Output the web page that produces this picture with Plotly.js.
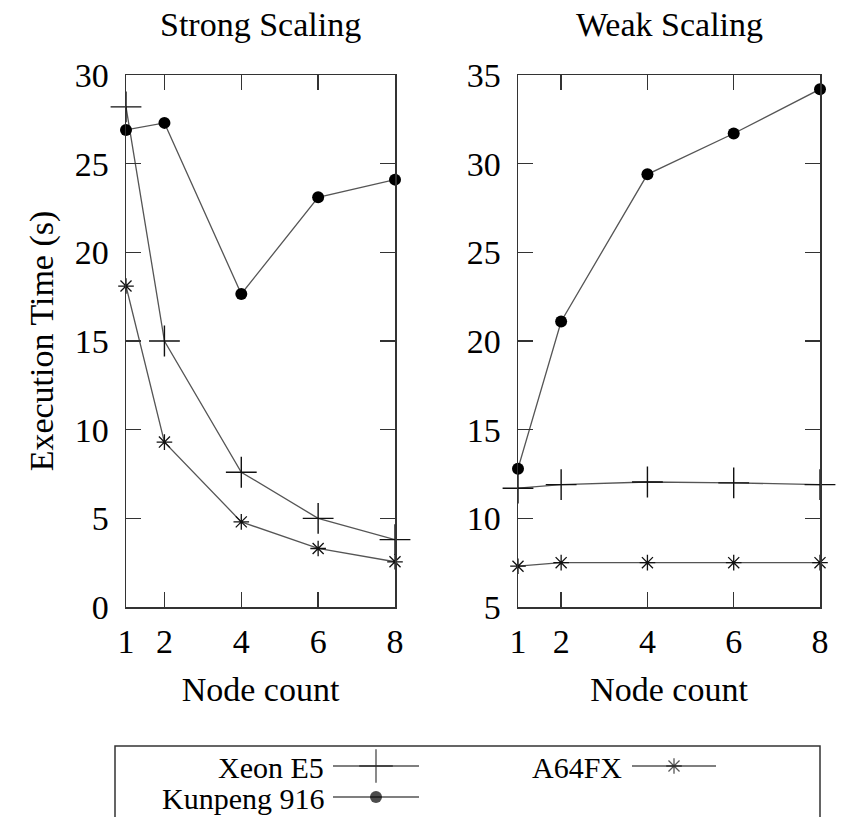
<!DOCTYPE html>
<html><head><meta charset="utf-8">
<script src="https://cdn.plot.ly/plotly-3.0.1.min.js"></script>
<style>html,body{margin:0;padding:0;background:#fff}#chart{width:843px;height:817px}</style>
</head><body><div id="chart"></div>
<script>
// ---- data ----
const nodes = [1, 2, 4, 6, 8];
const xTicks = [1, 2, 4, 6, 8];
const seriesNames = ['Xeon E5', 'Kunpeng 916', 'A64FX'];
const strongXeon = [28.2, 15.0, 7.6, 5.0, 3.8];
const strongKunpeng = [26.9, 27.3, 17.65, 23.1, 24.1];
const strongA64FX = [18.1, 9.3, 4.8, 3.3, 2.55];
const weakXeon = [11.7, 11.9, 12.05, 12.0, 11.9];
const weakKunpeng = [12.8, 21.1, 29.4, 31.7, 34.2];
const weakA64FX = [7.3, 7.5, 7.5, 7.5, 7.5];

// ---- styles ----
const W = 843, H = 817;
const FONT = 'Liberation Serif';
const FS = 34;
const LFS = 30;
const lineCol = '#555';
const markers = [
  {symbol: 'cross-thin-open', size: 22, color: '#111', line: {width: 1.4, color: '#111'}},
  {symbol: 'circle', size: 12, color: '#000', line: {width: 0}},
  {symbol: 'asterisk-open', size: 13, color: '#111', line: {width: 1.3, color: '#111'}}
];
const strongSets = [strongXeon, strongKunpeng, strongA64FX];
const weakSets = [weakXeon, weakKunpeng, weakA64FX];

const traces = [];
strongSets.forEach((ys, i) => traces.push({
  x: nodes, y: ys, name: seriesNames[i], mode: 'lines+markers', xaxis: 'x', yaxis: 'y',
  line: {color: lineCol, width: 1.3}, marker: markers[i], cliponaxis: false, showlegend: false
}));
weakSets.forEach((ys, i) => traces.push({
  x: nodes, y: ys, name: seriesNames[i], mode: 'lines+markers', xaxis: 'x2', yaxis: 'y2',
  line: {color: lineCol, width: 1.3}, marker: markers[i], cliponaxis: false, showlegend: false
}));

// custom legend (text left of sample, as in the reference) on a hidden pixel-space axis
const legendItems = [
  {name: seriesNames[0], textRight: 326, x0: 333, x1: 419, y: 766, m: markers[0]},
  {name: seriesNames[1], textRight: 326, x0: 333, x1: 419, y: 797, m: markers[1]},
  {name: seriesNames[2], textRight: 624, x0: 632, x1: 716, y: 766, m: markers[2]}
];
legendItems.forEach(it => {
  const mid = (it.x0 + it.x1) / 2;
  traces.push({
    x: [it.x0, mid, it.x1], y: [it.y, it.y, it.y], mode: 'lines+markers', xaxis: 'x3', yaxis: 'y3',
    line: {color: '#000', width: 1.2},
    marker: Object.assign({}, it.m, {size: [0, it.m.size === 22 ? 24 : it.m.size, 0]}),
    cliponaxis: false, showlegend: false, hoverinfo: 'skip'
  });
});

const axBase = {
  showline: true, linecolor: '#333', linewidth: 1.5, mirror: 'allticks',
  ticks: 'inside', ticklen: 15, tickwidth: 1.3, tickcolor: '#333',
  showgrid: false, zeroline: false, tickfont: {family: FONT, size: FS, color: '#000'},
  fixedrange: true
};
const xExtra = {ticklabelstandoff: 4};
const yExtra = {ticklabelstandoff: 9};
const yBot = 1 - 607 / H, yTop = 1 - 75 / H;

const annotations = [
  {text: 'Strong Scaling', x: (126 + 395) / 2 / W, y: 1 - 25 / H},
  {text: 'Weak Scaling', x: (518 + 820) / 2 / W, y: 1 - 25 / H}
].map(a => Object.assign(a, {xref: 'paper', yref: 'paper', xanchor: 'center', yanchor: 'middle', showarrow: false, font: {family: FONT, size: FS, color: '#000'}}));
legendItems.forEach(it => annotations.push({
  text: it.name, xref: 'x3', yref: 'y3', x: it.textRight, y: it.y + 1, xanchor: 'right', yanchor: 'middle',
  showarrow: false, font: {family: FONT, size: LFS, color: '#000'}
}));

const layout = {
  width: W, height: H, margin: {l: 0, r: 0, t: 0, b: 0},
  paper_bgcolor: '#fff', plot_bgcolor: 'rgba(0,0,0,0)', showlegend: false,
  font: {family: FONT, size: FS, color: '#000'},
  xaxis: Object.assign({}, axBase, xExtra, {domain: [126 / W, 395 / W], range: [1, 8], tickvals: xTicks, anchor: 'y',
    title: {text: 'Node count', font: {family: FONT, size: FS, color: '#000'}, standoff: 18}}),
  yaxis: Object.assign({}, axBase, yExtra, {domain: [yBot, yTop], range: [0, 30], dtick: 5, anchor: 'x',
    title: {text: 'Execution Time (s)', font: {family: FONT, size: FS, color: '#000'}, standoff: 11}}),
  xaxis2: Object.assign({}, axBase, xExtra, {domain: [518 / W, 820 / W], range: [1, 8], tickvals: xTicks, anchor: 'y2',
    title: {text: 'Node count', font: {family: FONT, size: FS, color: '#000'}, standoff: 18}}),
  yaxis2: Object.assign({}, axBase, yExtra, {domain: [yBot, yTop], range: [5, 35], dtick: 5, anchor: 'x2'}),
  xaxis3: {domain: [0, 1], range: [0, W], visible: false, fixedrange: true, anchor: 'y3'},
  yaxis3: {domain: [0, 1], range: [H, 0], visible: false, fixedrange: true, anchor: 'x3'},
  annotations: annotations,
  shapes: [{type: 'rect', xref: 'paper', yref: 'paper', x0: 115 / W, x1: 820 / W, y0: -0.05, y1: 1 - 746 / H,
    line: {color: '#333', width: 1.5}, fillcolor: 'rgba(0,0,0,0)'}]
};

Plotly.newPlot('chart', traces, layout, {displayModeBar: false, staticPlot: true});
</script>
</body></html>
